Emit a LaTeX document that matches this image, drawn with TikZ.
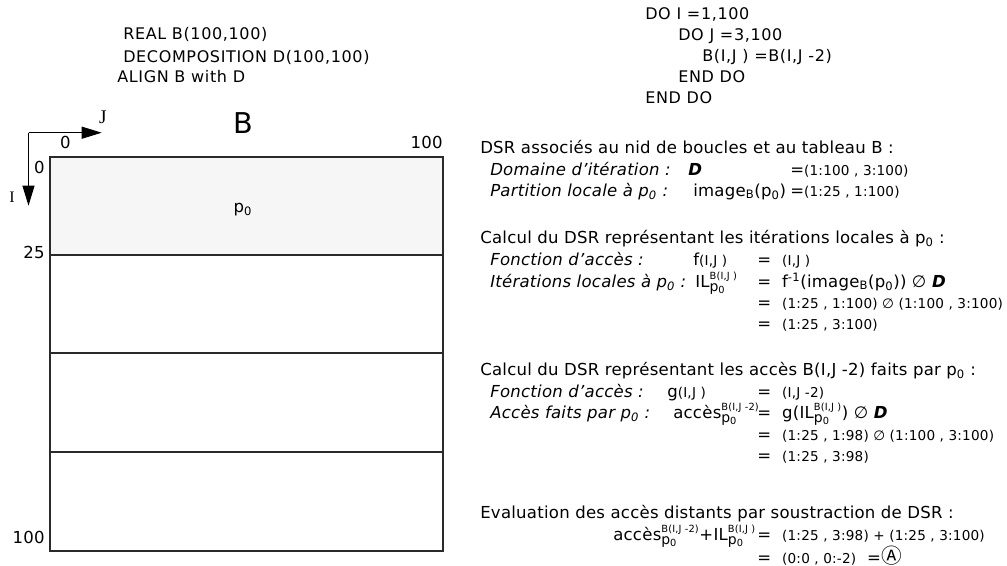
\documentclass[tikz,border=0pt]{standalone}
\usepackage{fontspec}
\setmainfont{DejaVu Sans}[BoldFont={DejaVu Sans Bold},ItalicFont={DejaVu Sans Oblique},BoldItalicFont={DejaVu Sans Bold Oblique},LetterSpace=1.5]
\newfontfamily\codefont{DejaVu Sans}[LetterSpace=4]
\newfontfamily\axfont{Liberation Serif}
\newfontfamily\cjk{Noto Sans CJK JP}
\usepackage{tikz}
\usetikzlibrary{arrows.meta,positioning}
\definecolor{bandGray}{HTML}{F6F6F6}
\definecolor{lineDark}{HTML}{2A2A2A}
\newcommand\mainsz{\fontsize{12.4}{15}\selectfont}
\newcommand\smallsz{\fontsize{10.2}{12}\selectfont}
\newcommand\codesz{\codefont\fontsize{12}{14}\selectfont}
\newcommand\pzero{p\textsubscript{0}}
\newcommand\bigD{\textbf{\textit{D}}}
\newcommand\dsrsup[1]{\ensuremath{^{\hbox{\fontsize{7.4}{8}\selectfont #1}}_{\hbox{\fontsize{10.5}{11}\selectfont\pzero}}}}

\begin{document}
\begin{tikzpicture}[x=0.75pt, y=-0.75pt,
    txt/.style={anchor=base west, inner sep=0pt, font=\mainsz},
    lbl/.style={txt, font=\mainsz\itshape},
    code/.style={anchor=base west, inner sep=0pt, font=\codesz},
    num/.style={inner sep=0pt, font=\mainsz},
    axisarrow/.style={line width=0.8pt, -{Triangle[length=15pt,width=9pt]}}]
    \useasboundingbox (0,0) rectangle (1007,565);
    % declarations and loop nest
    \node[code] (real) at (123,39) {REAL B(100,100)};
    \node[code] (decomp) at (123,62) {DECOMPOSITION D(100,100)};
    \node[code] (align) at (117,82) {ALIGN B with D};
    \node[code] (doi) at (645,19.5) {DO I =1,100};
    \node[code] (doj) at (678,40.5) {DO J =3,100};
    \node[code] (body) at (702,61) {B(I,J ) =B(I,J -2)};
    \node[code] (endj) at (678,82) {END DO};
    \node[code] (endi) at (645,103) {END DO};
    % array B and its four blocks
    \fill[bandGray] (50,157) rectangle (443,255);
    \foreach \y in {255,353,452}
        \draw[line width=1.1pt, lineDark] (50,\y) -- (443,\y);
    \draw[line width=0.9pt, lineDark] (50,157) rectangle (443,551);
    \coordinate (orig) at (28.5,132.7);
    \coordinate (jtip) at (101.7,132.7);
    \coordinate (itip) at (28.5,205.7);
    \draw[axisarrow] (orig) -- (jtip);
    \draw[axisarrow] (orig) -- (itip);
    \node[num, anchor=base, font=\axfont\fontsize{14.5}{16}\selectfont] (jlab) at (103,123) {J};
    \node[num, anchor=base, font=\axfont\fontsize{12}{14}\selectfont] (ilab) at (12,202) {I};
    \node[num, anchor=base, font=\fontsize{21.5}{24}\selectfont] (bname) at (243,133) {B};
    \node[num, anchor=base] (j0) at (65.5,148) {0};
    \node[num, anchor=base east] (j100) at (443,148) {100};
    \node[num, anchor=base east] (i0) at (45,173) {0};
    \node[num, anchor=base east] (i25) at (45,258) {25};
    \node[num, anchor=base east] (i100) at (45,543) {100};
    \node[num, anchor=base] (pz) at (243,212) {\pzero};
    % DSR of the nest and of B
    \node[txt] (h1) at (480,153) {DSR associés au nid de boucles et au tableau B :};
    \node[lbl] (dom) at (490,175) {Domaine d’itération :};
    \node[txt] (domd) at (688,175) {\bigD};
    \node[txt] (domv) at (790,175) {={\smallsz(1:100 , 3:100)}};
    \node[lbl] (part) at (490,196) {Partition locale à \pzero\ :};
    \node[txt] (parti) at (693,196) {image\textsubscript{B}(\pzero)};
    \node[txt] (partv) at (790,196) {={\smallsz(1:25 , 1:100)}};
    % local iterations
    \node[txt] (h2) at (480,243) {Calcul du DSR représentant les itérations locales à \pzero\ :};
    \node[lbl] (fon1) at (490,265) {Fonction d’accès :};
    \node[txt] (fon1e) at (693,265) {f{\smallsz(I,J )}};
    \node[txt] (fon1v) at (757,265) {= \ {\smallsz(I,J )}};
    \node[lbl] (ite) at (490,287) {Itérations locales à \pzero\ :};
    \node[txt] (itee) at (695,287) {IL\dsrsup{B(I,J )}};
    \node[txt] (itev) at (757,287) {= \ f\textsuperscript{-1}(image\textsubscript{B}(\pzero)) ∅ \bigD};
    \node[txt] (itev2) at (757,308) {= \ {\smallsz(1:25 , 1:100) ∅ (1:100 , 3:100)}};
    \node[txt] (itev3) at (757,329) {= \ {\smallsz(1:25 , 3:100)}};
    % accesses B(I,J-2)
    \node[txt] (h3) at (480,375) {Calcul du DSR représentant les accès B(I,J -2) faits par \pzero\ :};
    \node[lbl] (fon2) at (490,397) {Fonction d’accès :};
    \node[txt] (fon2e) at (667,397) {g{\smallsz(I,J )}};
    \node[txt] (fon2v) at (757,397) {= \ {\smallsz(I,J -2)}};
    \node[lbl] (acc) at (490,418) {Accès faits par \pzero\ :};
    \node[txt] (acce) at (673,418) {accès\dsrsup{B(I,J -2)}};
    \node[txt] (accv) at (757,418) {= \ g(IL\dsrsup{B(I,J )}) ∅ \bigD};
    \node[txt] (accv2) at (757,440) {= \ {\smallsz(1:25 , 1:98) ∅ (1:100 , 3:100)}};
    \node[txt] (accv3) at (757,461) {= \ {\smallsz(1:25 , 3:98)}};
    % remote accesses
    \node[txt] (h4) at (480,518) {Evaluation des accès distants par soustraction de DSR :};
    \node[txt] (evae) at (613,540) {accès\dsrsup{B(I,J -2)}+IL\dsrsup{B(I,J )}};
    \node[txt] (evav) at (757,540) {= \ {\smallsz(1:25 , 3:98) + (1:25 , 3:100)}};
    \node[txt] (evav2) at (757,563) {= \ {\smallsz(0:0 , 0:-2)} \ ={\cjk\fontsize{15.5}{16}\selectfont Ⓐ}};
\end{tikzpicture}
\end{document}
